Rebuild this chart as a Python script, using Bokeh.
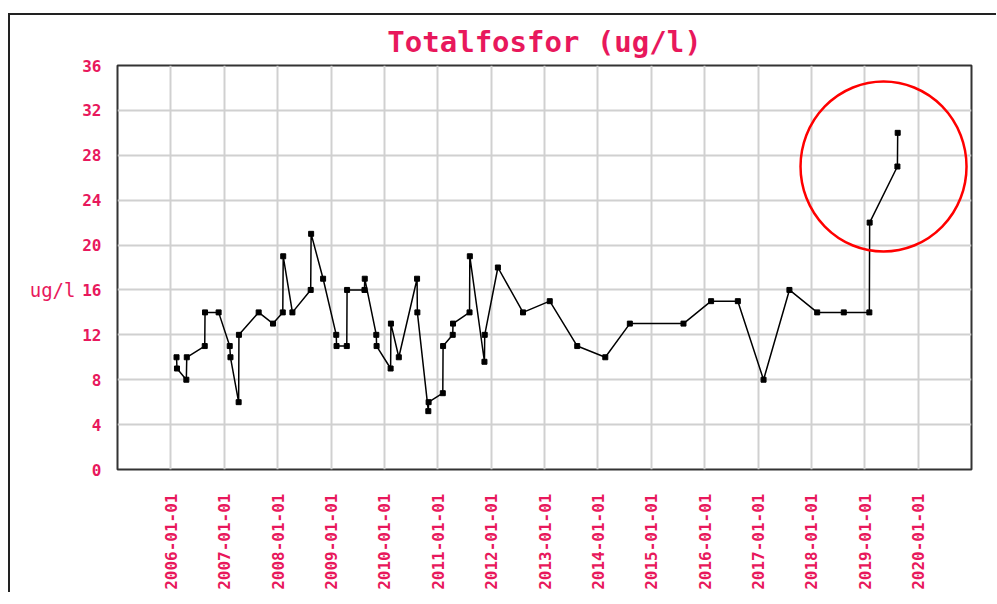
import numpy as np
import pandas as pd
from bokeh.plotting import figure
from bokeh.models import (Range1d, FixedTicker, DatetimeTickFormatter, LinearAxis,
                          ColumnDataSource)
from bokeh.embed import file_html
from bokeh.resources import INLINE

# ---- data ----
dates = [
    "2006-02-09", "2006-02-12", "2006-04-17", "2006-04-20", "2006-08-21", "2006-08-23",
    "2006-11-24", "2007-02-08", "2007-02-13", "2007-04-10", "2007-04-12", "2007-08-25",
    "2007-12-01", "2008-02-06", "2008-02-09", "2008-04-12", "2008-08-15", "2008-08-18",
    "2008-11-08", "2009-02-06", "2009-02-08", "2009-04-19", "2009-04-21", "2009-08-18",
    "2009-08-20", "2009-11-07", "2009-11-09", "2010-02-13", "2010-02-15", "2010-04-10",
    "2010-08-13", "2010-08-15", "2010-10-29", "2010-10-31", "2011-02-05", "2011-02-07",
    "2011-04-14", "2011-04-16", "2011-08-07", "2011-08-09", "2011-11-17", "2011-11-19",
    "2012-02-17", "2012-08-07", "2013-02-06", "2013-08-13", "2014-02-21", "2014-08-08",
    "2015-08-10", "2016-02-15", "2016-08-16", "2017-02-08", "2017-08-04", "2018-02-10",
    "2018-08-11", "2019-02-02", "2019-02-04", "2019-08-13", "2019-08-15",
]
values = [
    10, 9, 8, 10, 11, 14,
    14, 11, 10, 6, 12, 14,
    13, 14, 19, 14, 16, 21,
    17, 12, 11, 11, 16, 16,
    17, 12, 11, 9, 13, 10,
    17, 14, 5.2, 6, 6.8, 11,
    12, 13, 14, 19, 9.6, 12,
    18, 14, 15, 11, 10, 13,
    13, 15, 15, 8, 16, 14,
    14, 14, 22, 27, 30,
]
highlight_count = 4  # last samples marked by the red circle
year_ticks = [str(y) + "-01-01" for y in range(2006, 2021)]
y_ticks = [0, 4, 8, 12, 16, 20, 24, 28, 32, 36]
title_text = "Totalfosfor (ug/l)"
unit_text = "ug/l"
unit_level = 16

PINK = "#e8185c"

def ms(d):
    return pd.Timestamp(d).value / 1e6

x_dt = pd.to_datetime(dates)
src = ColumnDataSource(dict(x=x_dt, y=values))

p = figure(
    width=990, height=588,
    x_axis_type="datetime",
    x_range=Range1d(pd.Timestamp("2005-01-01"), pd.Timestamp("2021-01-01")),
    y_range=Range1d(0, 36),
    output_backend="svg", toolbar_location=None,
    frame_width=854, frame_height=404,
    min_border_left=107, min_border_top=50, min_border_right=25, min_border_bottom=10,
)
p.margin = (13, 0, 0, 8)
p.styles = {"border-top": "2px solid #222", "border-left": "2px solid #222"}

p.title.text = title_text
p.title.align = "center"
p.title.text_font = "DejaVu Sans Mono"
p.title.text_font_style = "bold"
p.title.text_font_size = "29px"
p.title.text_color = PINK
p.title.offset = 0
p.title.standoff = 14

p.outline_line_color = "#333333"
p.outline_line_width = 2

p.xaxis.ticker = FixedTicker(ticks=[ms(d) for d in year_ticks])
p.xaxis.formatter = DatetimeTickFormatter(
    years="%Y-%m-%d", months="%Y-%m-%d", days="%Y-%m-%d", hours="%Y-%m-%d")
p.xaxis.major_label_orientation = np.pi / 2
p.yaxis.ticker = FixedTicker(ticks=y_ticks)

for ax in (p.xaxis, p.yaxis):
    ax.axis_line_color = None
    ax.major_tick_line_color = None
    ax.minor_tick_line_color = None
    ax.major_label_text_font = "DejaVu Sans Mono"
    ax.major_label_text_font_style = "bold"
    ax.major_label_text_font_size = "16px"
    ax.major_label_text_color = PINK
p.xaxis.major_label_standoff = 18
p.yaxis.major_label_standoff = 10

# unit text shown horizontally left of the tick labels
unit_axis = LinearAxis(ticker=FixedTicker(ticks=[unit_level]),
                       major_label_overrides={unit_level: unit_text})
unit_axis.axis_line_color = None
unit_axis.major_tick_line_color = None
unit_axis.minor_tick_line_color = None
unit_axis.major_label_text_font = "DejaVu Sans Mono"
unit_axis.major_label_text_font_size = "19px"
unit_axis.major_label_text_color = PINK
unit_axis.major_label_text_baseline = "bottom"
unit_axis.major_label_standoff = -2
p.add_layout(unit_axis, "left")

p.xgrid.grid_line_color = "#d0d0d0"
p.ygrid.grid_line_color = "#d0d0d0"
p.xgrid.grid_line_width = 2
p.ygrid.grid_line_width = 2

p.line("x", "y", source=src, line_color="black", line_width=1.5)
p.scatter("x", "y", source=src, marker="square", size=5, color="black")

# red highlight ring around the last samples
hx = x_dt[-highlight_count:]
hv = values[-highlight_count + 1:]
cx = hx[0] + (hx[-1] - hx[0]) / 2
cy = float(np.median(hv))
p.ellipse(x=[cx], y=[cy], width=166, height=170, width_units="screen", height_units="screen",
          fill_color=None, line_color="#ff0000", line_width=2.5)

open("out.html", "w").write(file_html(p, INLINE))
